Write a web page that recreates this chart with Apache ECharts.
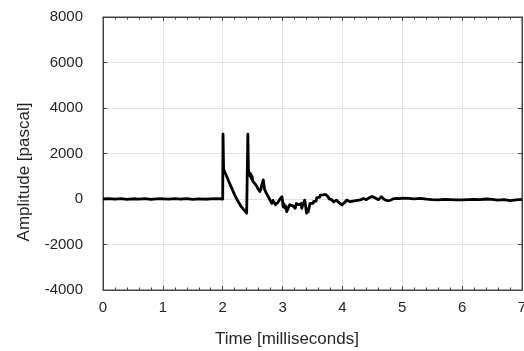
<!DOCTYPE html>
<html>
<head>
<meta charset="utf-8">
<script src="https://cdn.jsdelivr.net/npm/echarts@6/dist/echarts.min.js"></script>
<style>html,body{margin:0;padding:0;background:#fff;}#c{width:524px;height:351px;}</style>
</head>
<body>
<div id="c"></div>
<script>
const timeMs = [
  0.0,0.1,0.2,0.3,0.4,0.5,0.6,0.7,0.8,0.9,1.0,1.1,1.2,1.3,1.4,1.5,1.6,1.7,1.8,1.9,2.0,
  2.005,2.015,2.05,2.10,2.15,2.20,2.25,2.30,2.35,2.40,2.415,
  2.42,2.43,2.44,2.45,2.46,2.47,2.48,2.49,2.50,2.51,2.53,2.54,2.56,2.57,2.59,2.60,2.62,2.64,2.65,2.678,2.69,2.70,2.72,2.74,2.75,2.77,2.78,
  2.80,2.82,2.84,2.86,2.88,2.90,2.92,2.94,2.96,2.97,2.99,3.01,3.02,3.04,3.05,3.07,3.09,3.10,3.12,3.15,3.17,3.18,3.20,3.21,3.23,3.26,3.27,3.29,3.31,3.32,
  3.34,3.37,3.38,3.40,3.42,3.43,3.45,3.46,3.48,3.51,3.52,3.54,3.56,3.57,3.59,3.60,3.62,3.63,3.65,3.68,3.70,3.72,3.74,3.76,3.78,3.80,3.82,3.85,3.87,3.90,3.92,3.94,3.96,3.99,
  4.02,4.04,4.07,4.10,4.13,4.16,4.20,4.25,4.30,4.35,4.40,4.45,4.50,4.55,4.60,4.65,4.70,4.75,4.80,4.85,4.90,4.95,
  5.0,5.1,5.2,5.3,5.4,5.5,5.6,5.7,5.8,5.9,6.0,6.1,6.2,6.3,6.4,6.5,6.6,6.7,6.8,6.9,7.0
];
const amplitudePa = [
  0,20,-10,15,-20,10,-5,20,-15,5,10,-10,15,-5,20,-15,10,-10,5,15,0,
  2850,1300,1100,780,480,180,-80,-300,-470,-620,-660,
  2850,1250,1050,1150,1000,1100,900,1000,800,850,700,780,600,650,450,500,330,450,600,840,600,420,300,200,250,60,120,
  -100,-190,-60,-150,-250,-280,-150,-120,10,60,100,-340,-200,-400,-300,-560,-420,-400,-250,-190,-300,-330,-250,-410,-200,-120,-250,-300,-200,-410,
  -250,-50,-200,-620,-450,-560,-300,-190,-250,-190,-100,-40,-100,50,20,100,80,170,100,180,120,200,170,100,0,-60,-30,-120,-60,-50,-120,-150,-200,-260,
  -200,-150,-50,-100,-120,-60,-80,-60,-40,20,-30,60,110,40,-30,100,-20,-70,-60,10,30,20,
  40,30,10,30,-10,-30,-40,-20,-30,-40,-40,-30,-20,-30,0,-20,-50,-30,-70,-40,-20
];
const xTicks = [0,1,2,3,4,5,6,7];
const yTicks = [-4000,-2000,0,2000,4000,6000,8000];
const xTitle = 'Time [milliseconds]';
const yTitle = 'Amplitude [pascal]';

const chart = echarts.init(document.getElementById('c'), null, {renderer:'canvas'});
const font = 'Liberation Sans, Arial, Helvetica, sans-serif';
const axisCol = '#444';
const txtCol = '#262626';
chart.setOption({
  animation:false,
  grid: {left:103, right:2, top:17, bottom:61, show:true, borderColor:axisCol, borderWidth:1, containLabel:false, outerBoundsMode:'none'},
  xAxis: [{
    type:'value', min:xTicks[0], max:xTicks[xTicks.length-1], interval:1,
    axisLine:{show:true, onZero:false, lineStyle:{color:axisCol}},
    axisTick:{show:true, inside:true, length:4, lineStyle:{color:axisCol}},
    minorTick:{show:true, splitNumber:5, length:2.5, lineStyle:{color:axisCol}},
    axisLabel:{color:txtCol, fontSize:15, fontFamily:font, margin:10, formatter:v=>String(v)},
    splitLine:{show:true, lineStyle:{color:'#e3e3e3', width:1}}
  },{
    type:'value', position:'top', min:xTicks[0], max:xTicks[xTicks.length-1], interval:1,
    axisLine:{show:true, onZero:false, lineStyle:{color:axisCol}},
    axisTick:{show:true, inside:true, length:4, lineStyle:{color:axisCol}},
    minorTick:{show:true, splitNumber:5, length:2.5, lineStyle:{color:axisCol}},
    axisLabel:{show:false}, splitLine:{show:false}
  }],
  yAxis: [{
    type:'value', min:yTicks[0], max:yTicks[yTicks.length-1], interval:2000,
    axisLine:{show:true, onZero:false, lineStyle:{color:axisCol}},
    axisTick:{show:true, inside:true, length:4, lineStyle:{color:axisCol}},
    axisLabel:{color:txtCol, fontSize:15, fontFamily:font, margin:20, padding:[0,0,7,0], formatter:v=>String(v)},
    splitLine:{show:true, lineStyle:{color:'#e3e3e3', width:1}}
  },{
    type:'value', position:'right', min:yTicks[0], max:yTicks[yTicks.length-1], interval:2000,
    axisLine:{show:true, onZero:false, lineStyle:{color:axisCol}},
    axisTick:{show:true, inside:true, length:4, lineStyle:{color:axisCol}},
    axisLabel:{show:false}, splitLine:{show:false}
  }],
  graphic: [
    {type:'text', x:287, y:339, style:{text:xTitle, fill:txtCol, font:'17px '+font, textAlign:'center', textVerticalAlign:'middle'}},
    {type:'text', x:24, y:172, rotation:Math.PI/2, style:{text:yTitle, fill:txtCol, font:'17px '+font, textAlign:'center', textVerticalAlign:'middle'}}
  ],
  series: [{
    type:'line', xAxisIndex:0, yAxisIndex:0, showSymbol:false, symbol:'none',
    lineStyle:{color:'#000', width:2.8, join:'round'},
    data: timeMs.map((t,i)=>[t, amplitudePa[i]])
  }]
});
</script>
</body>
</html>
